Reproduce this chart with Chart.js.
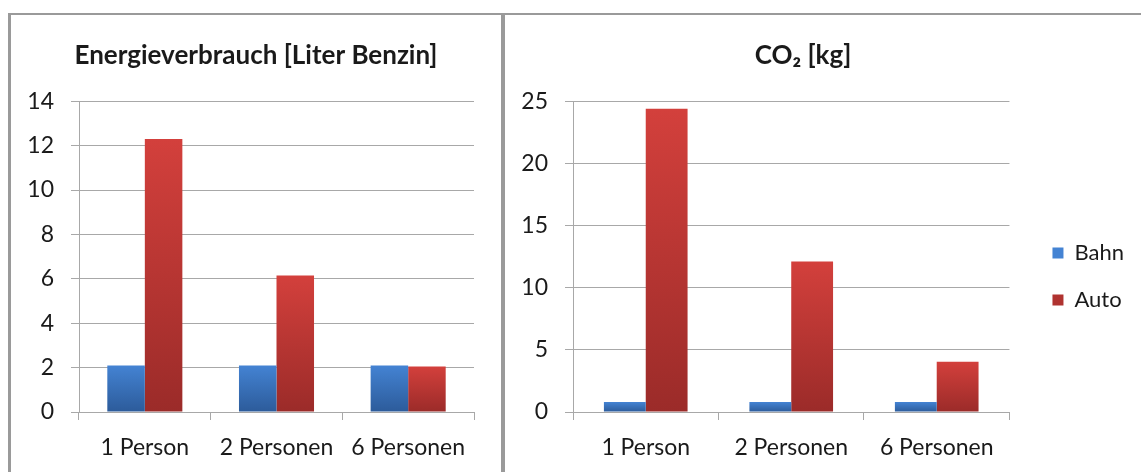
<!DOCTYPE html>
<html>
<head>
<meta charset="utf-8">
<title>Bahn vs Auto</title>
<script src="https://cdn.jsdelivr.net/npm/chart.js@4.4.1/dist/chart.umd.min.js"></script>
<style>
    html, body { margin: 0; padding: 0; background: #fff; overflow: hidden; }
    body { width: 1141px; height: 472px; position: relative; }
    .box { position: absolute; }
    #leftBox { left: 12px; top: 15px; width: 488px; height: 457px; }
    #rightBox { left: 472px; top: 15px; width: 669px; height: 457px; }
    .frame { position: absolute; border-color: #9a9a9a; border-style: solid; border-width: 0; }
    #leftFrame { left: 8px; top: 13px; width: 490px; height: 480px; border-left-width: 3px; border-top-width: 2px; border-right-width: 2px; }
    #rightFrame { left: 503px; top: 13px; width: 700px; height: 480px; border-left-width: 2px; border-top-width: 2px; }
</style>
</head>
<body>
<div class="box" id="leftBox"><canvas id="energyChart" width="488" height="457"></canvas></div>
<div class="box" id="rightBox"><canvas id="co2Chart" width="669" height="457"></canvas></div>
<div class="frame" id="leftFrame"></div>
<div class="frame" id="rightFrame"></div>

<script>
var categories = ['1 Person', '2 Personen', '6 Personen'];
var seriesNames = ['Bahn', 'Auto'];

// Energieverbrauch [Liter Benzin]
var energyBahn = [2.1, 2.1, 2.1];
var energyAuto = [12.3, 6.15, 2.05];
var energyTicks = [0, 2, 4, 6, 8, 10, 12, 14];

// CO2 [kg]
var co2Bahn = [0.8, 0.8, 0.8];
var co2Auto = [24.4, 12.1, 4.05];
var co2Ticks = [0, 5, 10, 15, 20, 25];

var fontName = 'Lato, "Open Sans", sans-serif';
var textColor = '#1a1a1a';
var gridColor = '#a8a8a8';

// vertical gradient for each bar, light at the top, dark at the base
function barFill(topColor, baseColor) {
    return function (ctx) {
        var chart = ctx.chart;
        if (ctx.type !== 'data' || !chart.chartArea) {
            return topColor;
        }
        var y = chart.scales.y;
        var yTop = y.getPixelForValue(ctx.raw);
        var yBase = y.getPixelForValue(0);
        if (!isFinite(yTop) || !isFinite(yBase) || yTop === yBase) {
            return topColor;
        }
        var g = chart.ctx.createLinearGradient(0, yTop, 0, yBase);
        g.addColorStop(0, topColor);
        g.addColorStop(1, baseColor);
        return g;
    };
}

function makeDatasets(bahn, auto, catPct) {
    return [
        {
            label: seriesNames[0],
            data: bahn,
            yAxisID: 'y',
            backgroundColor: barFill('#4483d3', '#2c5b9a'),
            borderWidth: 0,
            categoryPercentage: catPct,
            barPercentage: 1
        },
        {
            label: seriesNames[1],
            data: auto,
            yAxisID: 'y',
            backgroundColor: barFill('#d3403c', '#9b2b29'),
            borderWidth: 0,
            categoryPercentage: catPct,
            barPercentage: 1
        }
    ];
}

// empty axis on the right, only used as spacing
function spacer(width) {
    return {
        type: 'linear', axis: 'y', position: 'right', display: true,
        grid: { display: false, drawTicks: false },
        border: { display: false },
        ticks: { display: false },
        afterFit: function (scale) { scale.width = width; }
    };
}

function makeScales(ticks, yWidth, gapWidth) {
    return {
        y: {
            min: ticks[0],
            max: ticks[ticks.length - 1],
            afterBuildTicks: function (scale) {
                scale.ticks = ticks.map(function (v) { return { value: v }; });
            },
            afterFit: function (scale) { scale.width = yWidth; },
            grid: { color: gridColor, lineWidth: 1, tickLength: 8 },
            border: { color: gridColor },
            ticks: { color: textColor, padding: 17, font: { family: fontName, size: 23 } }
        },
        x: {
            afterFit: function (scale) { scale.height = 60; },
            grid: { drawOnChartArea: false, color: gridColor, tickLength: 8 },
            border: { color: gridColor },
            ticks: {
                color: textColor, padding: 14, maxRotation: 0, autoSkip: false,
                font: { family: fontName, size: 23 }
            }
        },
        gap: spacer(gapWidth)
    };
}

function makeTitle(text) {
    return {
        display: true,
        text: text,
        color: textColor,
        font: { family: fontName, size: 26, weight: 'bold' },
        padding: { top: 25, bottom: 30 }
    };
}

var energyChart = new Chart(document.getElementById('energyChart'), {
    type: 'bar',
    data: { labels: categories, datasets: makeDatasets(energyBahn, energyAuto, 0.57) },
    options: {
        responsive: false,
        animation: false,
        scales: makeScales(energyTicks, 67, 26),
        plugins: {
            title: makeTitle('Energieverbrauch [Liter Benzin]'),
            legend: { display: false },
            tooltip: { enabled: false }
        }
    }
});

var co2Chart = new Chart(document.getElementById('co2Chart'), {
    type: 'bar',
    data: { labels: categories, datasets: makeDatasets(co2Bahn, co2Auto, 0.575) },
    options: {
        responsive: false,
        animation: false,
        layout: { padding: { right: 7 } },
        scales: makeScales(co2Ticks, 101, 18),
        plugins: {
            title: makeTitle('CO₂ [kg]'),
            legend: {
                position: 'right',
                align: 'center',
                title: { display: true, text: ' ', font: { size: 10 }, padding: { top: 54, bottom: 0 } },
                labels: {
                    boxWidth: 11, boxHeight: 11, padding: 25, color: textColor,
                    font: { family: fontName, size: 22 }
                }
            },
            tooltip: { enabled: false }
        }
    }
});
</script>
</body>
</html>
